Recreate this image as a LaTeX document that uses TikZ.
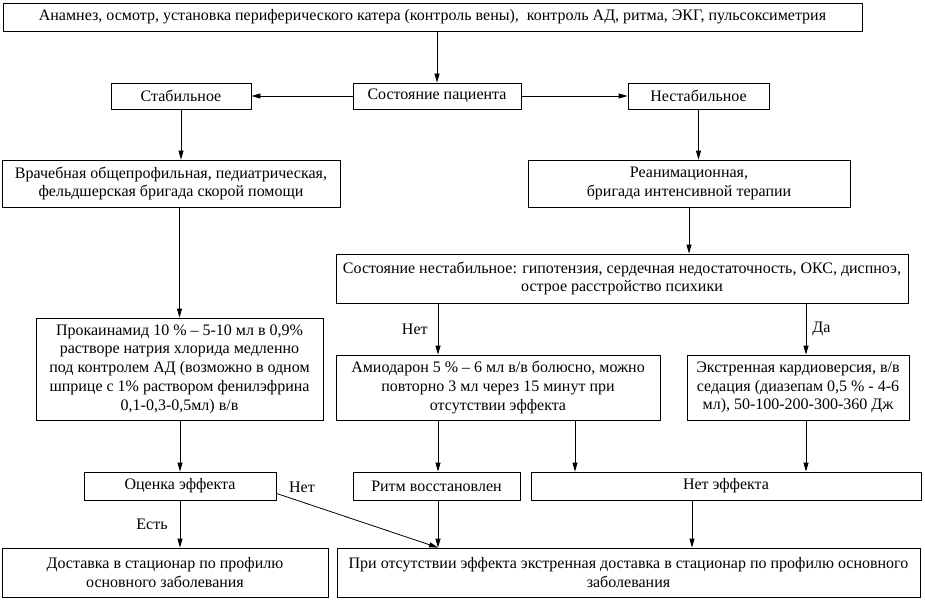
\documentclass[tikz,border=0pt]{standalone}
\usepackage{fontspec}
\newfontfamily\tms{Liberation Serif}
\usetikzlibrary{arrows.meta,calc}
\begin{document}
\begin{tikzpicture}[x=1pt,y=-1pt,
  box/.style={draw,line width=0.8pt,inner sep=1pt,align=center,
    font=\tms\fontsize{16}{18.7}\selectfont},
  arr/.style={line width=0.8pt,-{Triangle[length=9pt,width=5pt]}},
  lbl/.style={inner sep=0pt,font=\tms\fontsize{16}{18.7}\selectfont}]
\useasboundingbox[fill=white] (0,0) rectangle (925,599);
\node[box,minimum width=859pt,minimum height=28pt] (top) at (432.5,17)
  {Анамнез, осмотр, установка периферического катера (контроль вены),\ \ контроль АД, ритма, ЭКГ, пульсоксиметрия};
\node[box,minimum width=168pt,minimum height=26pt] (state) at (437,96) {Состояние пациента};
\node[box,minimum width=140pt,minimum height=26pt] (stab) at (181,96) {Стабильное};
\node[box,minimum width=141pt,minimum height=26pt] (unstab) at (698.5,96) {Нестабильное};
\node[box,minimum width=338pt,minimum height=47pt] (vrach) at (171,183.5)
  {Врачебная общепрофильная, педиатрическая,\\фельдшерская бригада скорой помощи};
\node[box,minimum width=322pt,minimum height=47pt] (reanim) at (689,183.5)
  {Реанимационная,\\бригада интенсивной терапии};
\node[box,minimum width=572pt,minimum height=49pt] (unst2) at (622,278.5)
  {Состояние нестабильное: гипотензия, сердечная недостаточность, ОКС, диспноэ,\\острое расстройство психики};
\node[box,minimum width=287pt,minimum height=102pt] (prok) at (179.5,369)
  {Прокаинамид 10 \% – 5-10 мл в 0,9\%\\растворе натрия хлорида медленно\\под контролем АД (возможно в одном\\шприце с 1\% раствором фенилэфрина\\0,1-0,3-0,5мл) в/в};
\node[box,minimum width=324pt,minimum height=65pt] (amio) at (498,387.5)
  {Амиодарон 5 \% – 6 мл в/в болюсно, можно\\повторно 3 мл через 15 минут при\\отсутствии эффекта};
\node[box,minimum width=222pt,minimum height=65pt] (ekstr) at (798,387.5)
  {Экстренная кардиоверсия, в/в\\седация (диазепам 0,5 \% - 4-6\\мл), 50-100-200-300-360 Дж};
\node[box,minimum width=192pt,minimum height=28pt] (ocenka) at (180,486) {Оценка эффекта};
\node[box,minimum width=167pt,minimum height=28pt] (ritm) at (436.5,486) {Ритм восстановлен};
\node[box,minimum width=390pt,minimum height=28pt] (neteff) at (726,486) {Нет эффекта};
\node[box,minimum width=326pt,minimum height=49pt] (dost) at (165,572.5)
  {Доставка в стационар по профилю\\основного заболевания};
\node[box,minimum width=583pt,minimum height=49pt] (pri) at (628.5,572.5)
  {При отсутствии эффекта экстренная доставка в стационар по профилю основного\\заболевания};
\coordinate (cN) at (438,0);
\coordinate (cD) at (806,0);
\coordinate (cA) at (575,0);
\coordinate (cE) at (692,0);
\draw[arr] (state.north |- top.south) -- (state.north);
\draw[arr] (state.west) -- (stab.east);
\draw[arr] (state.east) -- (unstab.west);
\draw[arr] (stab.south) -- (stab.south |- vrach.north);
\draw[arr] (unstab.south) -- (unstab.south |- reanim.north);
\draw[arr] (prok.north |- vrach.south) -- (prok.north);
\draw[arr] (reanim.south) -- (reanim.south |- unst2.north);
\draw[arr] (unst2.south -| cN) -- node[lbl,left=10pt] {Нет} (amio.north -| cN);
\draw[arr] (unst2.south -| cD) -- node[lbl,right=6pt] {Да} (ekstr.north -| cD);
\draw[arr] (ocenka.north |- prok.south) -- (ocenka.north);
\draw[arr] (amio.south -| cN) -- (ritm.north -| cN);
\draw[arr] (amio.south -| cA) -- (neteff.north -| cA);
\draw[arr] (ekstr.south -| cD) -- (neteff.north -| cD);
\draw[arr] (ocenka.south) -- node[lbl,left=12pt] {Есть} (ocenka.south |- dost.north);
\draw[arr] (ritm.south -| cN) -- (pri.north -| cN);
\draw[arr] (neteff.south -| cE) -- (pri.north -| cE);
\draw[arr] ($(ocenka.south east)+(0,-7)$) -- (pri.north -| cN);
\node[lbl] (lnet) at (302,487) {Нет};
\end{tikzpicture}
\end{document}
